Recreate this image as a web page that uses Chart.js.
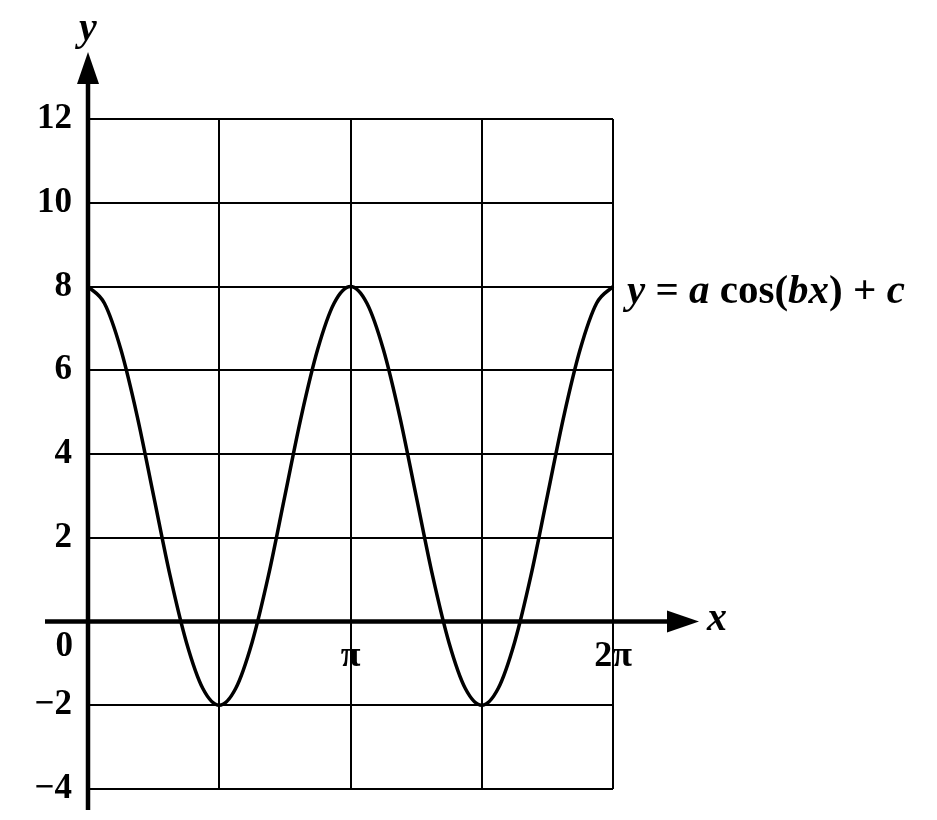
<!DOCTYPE html>
<html>
<head>
<meta charset="utf-8">
<script src="https://cdn.jsdelivr.net/npm/chart.js@4"></script>
<style>
html, body { margin: 0; background: #fff; }
#chart { display: block; }
</style>
</head>
<body>
<canvas id="chart" width="937" height="820"></canvas>
<script>
const ink = "#000";
const serif = "'Liberation Serif', 'DejaVu Serif', serif";

// x in units of pi
const xPi = [0, 0.0625, 0.125, 0.1875, 0.25, 0.3125, 0.375, 0.4375, 0.5,
    0.5625, 0.625, 0.6875, 0.75, 0.8125, 0.875, 0.9375, 1,
    1.0625, 1.125, 1.1875, 1.25, 1.3125, 1.375, 1.4375, 1.5,
    1.5625, 1.625, 1.6875, 1.75, 1.8125, 1.875, 1.9375, 2];
const yValues = [8, 7.6, 6.5, 4.9, 3, 1.1, -0.5, -1.6, -2,
    -1.6, -0.5, 1.1, 3, 4.9, 6.5, 7.6, 8,
    7.6, 6.5, 4.9, 3, 1.1, -0.5, -1.6, -2,
    -1.6, -0.5, 1.1, 3, 4.9, 6.5, 7.6, 8];

const xTicks = [0, 0.5, 1, 1.5, 2];
const xTickLabels = ["", "", "π", "", "2π"];
const yTicks = [-4, -2, 0, 2, 4, 6, 8, 10, 12];

const equation = [["y", true], [" = ", false], ["a", true], [" cos(", false],
    ["b", true], ["x", true], [") + ", false], ["c", true]];

const axesPlugin = {
    id: "axes",
    afterDraw(chart) {
        const { ctx } = chart;
        const x = chart.scales.x, y = chart.scales.y;
        const x0 = x.getPixelForValue(0);
        const y0 = y.getPixelForValue(0);
        ctx.save();
        ctx.strokeStyle = ink;
        ctx.fillStyle = ink;
        ctx.lineWidth = 4.5;

        // y axis with arrow
        ctx.beginPath();
        ctx.moveTo(x0, y.bottom + 21);
        ctx.lineTo(x0, y.top - 40);
        ctx.stroke();
        ctx.beginPath();
        ctx.moveTo(x0, y.top - 67);
        ctx.lineTo(x0 - 11, y.top - 35);
        ctx.lineTo(x0 + 11, y.top - 35);
        ctx.closePath();
        ctx.fill();

        // x axis with arrow
        ctx.beginPath();
        ctx.moveTo(x0 - 43, y0);
        ctx.lineTo(x.right + 60, y0);
        ctx.stroke();
        ctx.beginPath();
        ctx.moveTo(x.right + 86, y0);
        ctx.lineTo(x.right + 54, y0 - 11);
        ctx.lineTo(x.right + 54, y0 + 11);
        ctx.closePath();
        ctx.fill();

        // axis names
        ctx.font = "italic bold 40px " + serif;
        ctx.textAlign = "center";
        ctx.textBaseline = "middle";
        ctx.fillText("y", x0, 30);
        ctx.fillText("x", x.right + 104, y0 - 2);

        // origin label
        ctx.font = "bold 35px " + serif;
        ctx.textAlign = "right";
        ctx.fillText("0", x0 - 15, y0 + 25);

        // equation label next to the right end of the curve
        ctx.textAlign = "left";
        let px = x.right + 14;
        const py = y.getPixelForValue(8) + 6;
        equation.forEach(([txt, italic]) => {
            ctx.font = (italic ? "italic " : "") + "bold 41px " + serif;
            ctx.fillText(txt, px, py);
            px += ctx.measureText(txt).width;
        });
        ctx.restore();
    }
};

new Chart(document.getElementById("chart"), {
    type: "line",
    data: {
        datasets: [{
            data: xPi.map((v, i) => ({ x: v, y: yValues[i] })),
            borderColor: ink,
            borderWidth: 3.5,
            pointRadius: 0,
            fill: false,
            cubicInterpolationMode: "monotone",
            clip: false
        }]
    },
    plugins: [axesPlugin],
    options: {
        responsive: false,
        animation: false,
        layout: { padding: { left: 0, top: 119, right: 324, bottom: 31 } },
        plugins: { legend: { display: false }, tooltip: { enabled: false } },
        scales: {
            x: {
                type: "linear",
                position: { y: 0 },
                min: 0,
                max: 2,
                afterBuildTicks: (s) => { s.ticks = xTicks.map(v => ({ value: v })); },
                afterFit: (s) => { s.paddingLeft = 0; s.paddingRight = 0; },
                grid: { color: ink, lineWidth: 2, drawTicks: false },
                border: { display: false },
                ticks: {
                    color: ink,
                    padding: 14,
                    maxRotation: 0,
                    font: { family: serif, size: 36, weight: "bold" },
                    callback: (v) => xTickLabels[xTicks.indexOf(v)] ?? ""
                }
            },
            y: {
                type: "linear",
                min: -4,
                max: 12,
                afterBuildTicks: (s) => { s.ticks = yTicks.map(v => ({ value: v })); },
                afterFit: (s) => { s.width = 88; s.paddingTop = 0; s.paddingBottom = 0; },
                grid: { color: ink, lineWidth: 2, drawTicks: false },
                border: { display: false },
                ticks: {
                    color: ink,
                    padding: 16,
                    font: { family: serif, size: 35, weight: "bold" },
                    callback: (v) => (v === 0 ? "" : (v < 0 ? "\u2212" + Math.abs(v) : String(v)))
                }
            }
        }
    }
});
</script>
</body>
</html>
